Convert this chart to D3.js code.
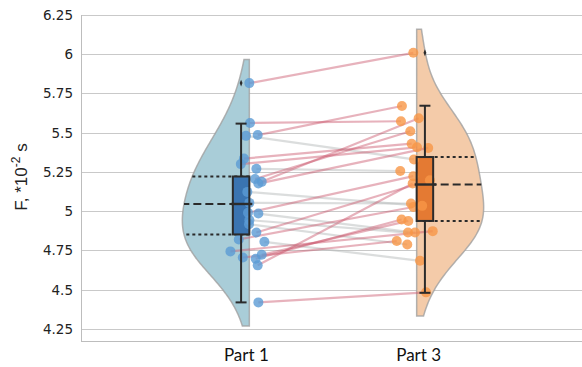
<!DOCTYPE html>
<html>
<head>
<meta charset="utf-8">
<script src="https://cdn.jsdelivr.net/npm/d3@7/dist/d3.min.js"></script>
<style>
  html, body { margin: 0; padding: 0; background: #fff; }
  svg { display: block; }
</style>
</head>
<body>
<svg id="chart" width="582" height="367"></svg>
<script>
// Paired measurements: part1[i] and part3[i] belong to the same subject
const categories = ["Part 1", "Part 3"];
const part1 = [5.816, 5.562, 5.485, 5.48, 5.335, 5.30, 5.27, 5.205, 5.187, 5.176, 5.123, 5.053, 4.99,
               4.985, 4.943, 4.917, 4.864, 4.82, 4.805, 4.744, 4.722, 4.705, 4.697, 4.655, 4.419];
const part3 = [6.009, 5.573, 5.67, 5.33, 5.43, 5.407, 5.256, 5.509, 5.592, 5.403, 5.034, 5.049, 5.223,
               4.864, 4.864, 4.788, 5.197, 5.027, 4.684, 4.873, 4.938, 4.81, 4.947, 5.176, 4.483];
// horizontal jitter of each point, in category units
const jitter1 = [0, 0.004, 0.05, -0.02, -0.032, -0.051, 0.042, 0.034, 0.074, 0.054, -0.012, 0, -0.008,
                 0.054, 0, -0.002, 0.042, -0.063, 0.09, -0.113, 0.074, -0.039, 0.038, 0.05, 0.054];
const jitter3 = [-0.02, -0.094, -0.088, -0.016, -0.03, 0.002, -0.098, -0.038, 0.012, 0.069, 0.033, -0.034, -0.02,
                 -0.01, -0.052, -0.056, 0.079, -0.02, 0.02, 0.096, -0.05, -0.119, -0.09, -0.024, 0.056];

// box plot summaries per category
const q1 = [4.852, 4.938];
const medians = [5.046, 5.17];
const q3 = [5.221, 5.345];
const whiskerLow = [4.419, 4.48];
const whiskerHigh = [5.558, 5.672];
const outliers = [[5.816], [6.009]];

const yTicks = [4.25, 4.5, 4.75, 5, 5.25, 5.5, 5.75, 6, 6.25];

const violinFill = ["#a9cdd8", "#f4cba9"];
const boxFill = ["#3a74b1", "#e47a33"];
const pointFill = ["#5b9bd5", "#f79646"];

// density smoothing and how far the violin runs past the extreme values
const bandwidth = 0.2;
const violinCut = 0.15;

const svg = d3.select("#chart");
const plot = { left: 81, right: 582, top: 15, bottom: 341 };

const x = d3.scaleLinear().domain([-1, 2]).range([82, 584]);
const y = d3.scaleLinear().domain([4.173, 6.25]).range([plot.bottom, plot.top]);

// grid lines
svg.append("g").selectAll("line").data(yTicks).join("line")
  .attr("x1", plot.left).attr("x2", plot.right)
  .attr("y1", d => Math.round(y(d)) + 0.5).attr("y2", d => Math.round(y(d)) + 0.5)
  .attr("stroke", "#c9c9c9").attr("stroke-width", 1.2);

// y axis
const yAxis = d3.axisLeft(y).tickValues(yTicks).tickSize(0).tickPadding(8)
  .tickFormat(d => String(d));
const gy = svg.append("g").attr("transform", `translate(${plot.left},0)`).call(yAxis);
gy.select(".domain").attr("stroke", "#bdbdbd").attr("d", `M0.5,${plot.top}V${plot.bottom}`);
gy.selectAll("text").attr("font-family", "DejaVu Sans, sans-serif").attr("font-size", 13.5).attr("fill", "#222");

// x axis baseline and labels
svg.append("line").attr("x1", plot.left).attr("x2", plot.right)
  .attr("y1", plot.bottom + 0.5).attr("y2", plot.bottom + 0.5)
  .attr("stroke", "#bdbdbd").attr("stroke-width", 1.2);
svg.append("g").selectAll("text").data(categories).join("text")
  .attr("x", (d, i) => x(i) + (i === 0 ? -3 : 2))
  .attr("y", 361)
  .attr("text-anchor", "middle")
  .attr("font-family", "Lato, Open Sans, sans-serif").attr("font-size", 17).attr("fill", "#111")
  .text(d => d);

// y axis title with superscript
const title = svg.append("text")
  .attr("transform", "translate(27,177) rotate(-90)")
  .attr("text-anchor", "middle")
  .attr("font-family", "Liberation Sans, Arial, sans-serif").attr("font-size", 17).attr("fill", "#222");
title.append("tspan").text("F, *10");
title.append("tspan").attr("dy", -7).attr("font-size", 12).text("-2");
title.append("tspan").attr("dy", 7).text(" s");

// gaussian kernel density, evaluated between the cut limits
function kde(values) {
  const f = v => d3.sum(values, xi => Math.exp(-0.5 * ((v - xi) / bandwidth) ** 2));
  const lo = d3.min(values) - violinCut, hi = d3.max(values) + violinCut;
  const steps = 140;
  const pts = d3.range(steps + 1).map(k => {
    const v = lo + (hi - lo) * k / steps;
    return [v, f(v)];
  });
  return { pts, f, max: d3.max(pts, p => p[1]) };
}

const groups = [part1, part3];
const halfWidth = 67;
groups.forEach((vals, i) => {
  const k = kde(vals);
  const side = i === 0 ? -1 : 1;
  const cx = x(i);
  const w = d => side * halfWidth * d / k.max;
  const area = d3.area()
    .y(p => y(p[0]))
    .x0(cx)
    .x1(p => cx + w(p[1]))
    .curve(d3.curveBasis);
  svg.append("path").datum(k.pts)
    .attr("d", area)
    .attr("fill", violinFill[i])
    .attr("stroke", "#a0a0a0").attr("stroke-opacity", 0.8).attr("stroke-width", 1.5);

  // quartile lines across the violin
  [[q3[i], "3,3"], [medians[i], "8,4"], [q1[i], "3,3"]].forEach(([v, dash]) => {
    svg.append("line")
      .attr("x1", cx).attr("x2", cx + w(k.f(v)))
      .attr("y1", y(v)).attr("y2", y(v))
      .attr("stroke", "#2a2a2a").attr("stroke-width", 2)
      .attr("stroke-dasharray", dash);
  });
});

// lines linking each subject across the two parts
const pairs = part1.map((v, i) => ({ a: v, b: part3[i], ja: jitter1[i], jb: jitter3[i] }));
svg.append("g").selectAll("line").data(pairs).join("line")
  .attr("x1", d => x(0 + d.ja)).attr("y1", d => y(d.a))
  .attr("x2", d => x(1 + d.jb)).attr("y2", d => y(d.b))
  .attr("stroke", d => d.b >= d.a ? "#c9546b" : "#b8bcbc")
  .attr("stroke-opacity", d => d.b >= d.a ? 0.45 : 0.5)
  .attr("stroke-width", 2.2);

// box plots, placed on the violin side of each category
const boxW = 16.5;
const boxX = i => i === 0 ? x(0) - boxW : x(1);
groups.forEach((vals, i) => {
  svg.append("rect")
    .attr("x", boxX(i)).attr("y", y(q3[i]))
    .attr("width", boxW).attr("height", y(q1[i]) - y(q3[i]))
    .attr("fill", boxFill[i]);
});

// data points
const ptLayer = svg.append("g");
ptLayer.selectAll("circle.p1").data(pairs).join("circle").attr("class", "p1")
  .attr("cx", d => x(d.ja)).attr("cy", d => y(d.a)).attr("r", 5)
  .attr("fill", pointFill[0]).attr("fill-opacity", 0.8);
ptLayer.selectAll("circle.p3").data(pairs).join("circle").attr("class", "p3")
  .attr("cx", d => x(1 + d.jb)).attr("cy", d => y(d.b)).attr("r", 5)
  .attr("fill", pointFill[1]).attr("fill-opacity", 0.8);

// box outlines, whiskers, medians and outliers
const ink = "#2b2b2b";
groups.forEach((vals, i) => {
  const bx = boxX(i), cx = bx + boxW / 2;
  const g = svg.append("g").attr("stroke", ink).attr("stroke-width", 2).attr("fill", "none");
  g.append("rect").attr("x", bx).attr("y", y(q3[i]))
    .attr("width", boxW).attr("height", y(q1[i]) - y(q3[i]));
  g.append("line").attr("x1", cx).attr("x2", cx).attr("y1", y(whiskerHigh[i])).attr("y2", y(q3[i]));
  g.append("line").attr("x1", cx).attr("x2", cx).attr("y1", y(q1[i])).attr("y2", y(whiskerLow[i]));
  [whiskerHigh[i], whiskerLow[i]].forEach(v => {
    g.append("line").attr("x1", cx - 5.5).attr("x2", cx + 5.5).attr("y1", y(v)).attr("y2", y(v));
  });
  g.append("line").attr("x1", bx - 2).attr("x2", bx + boxW + 3)
    .attr("y1", y(medians[i])).attr("y2", y(medians[i])).attr("stroke-width", 2.4);
  outliers[i].forEach(v => {
    svg.append("path")
      .attr("d", d3.symbol(d3.symbolDiamond, 14)())
      .attr("transform", `translate(${cx},${y(v)}) scale(0.7,1)`)
      .attr("fill", ink);
  });
});
</script>
</body>
</html>
